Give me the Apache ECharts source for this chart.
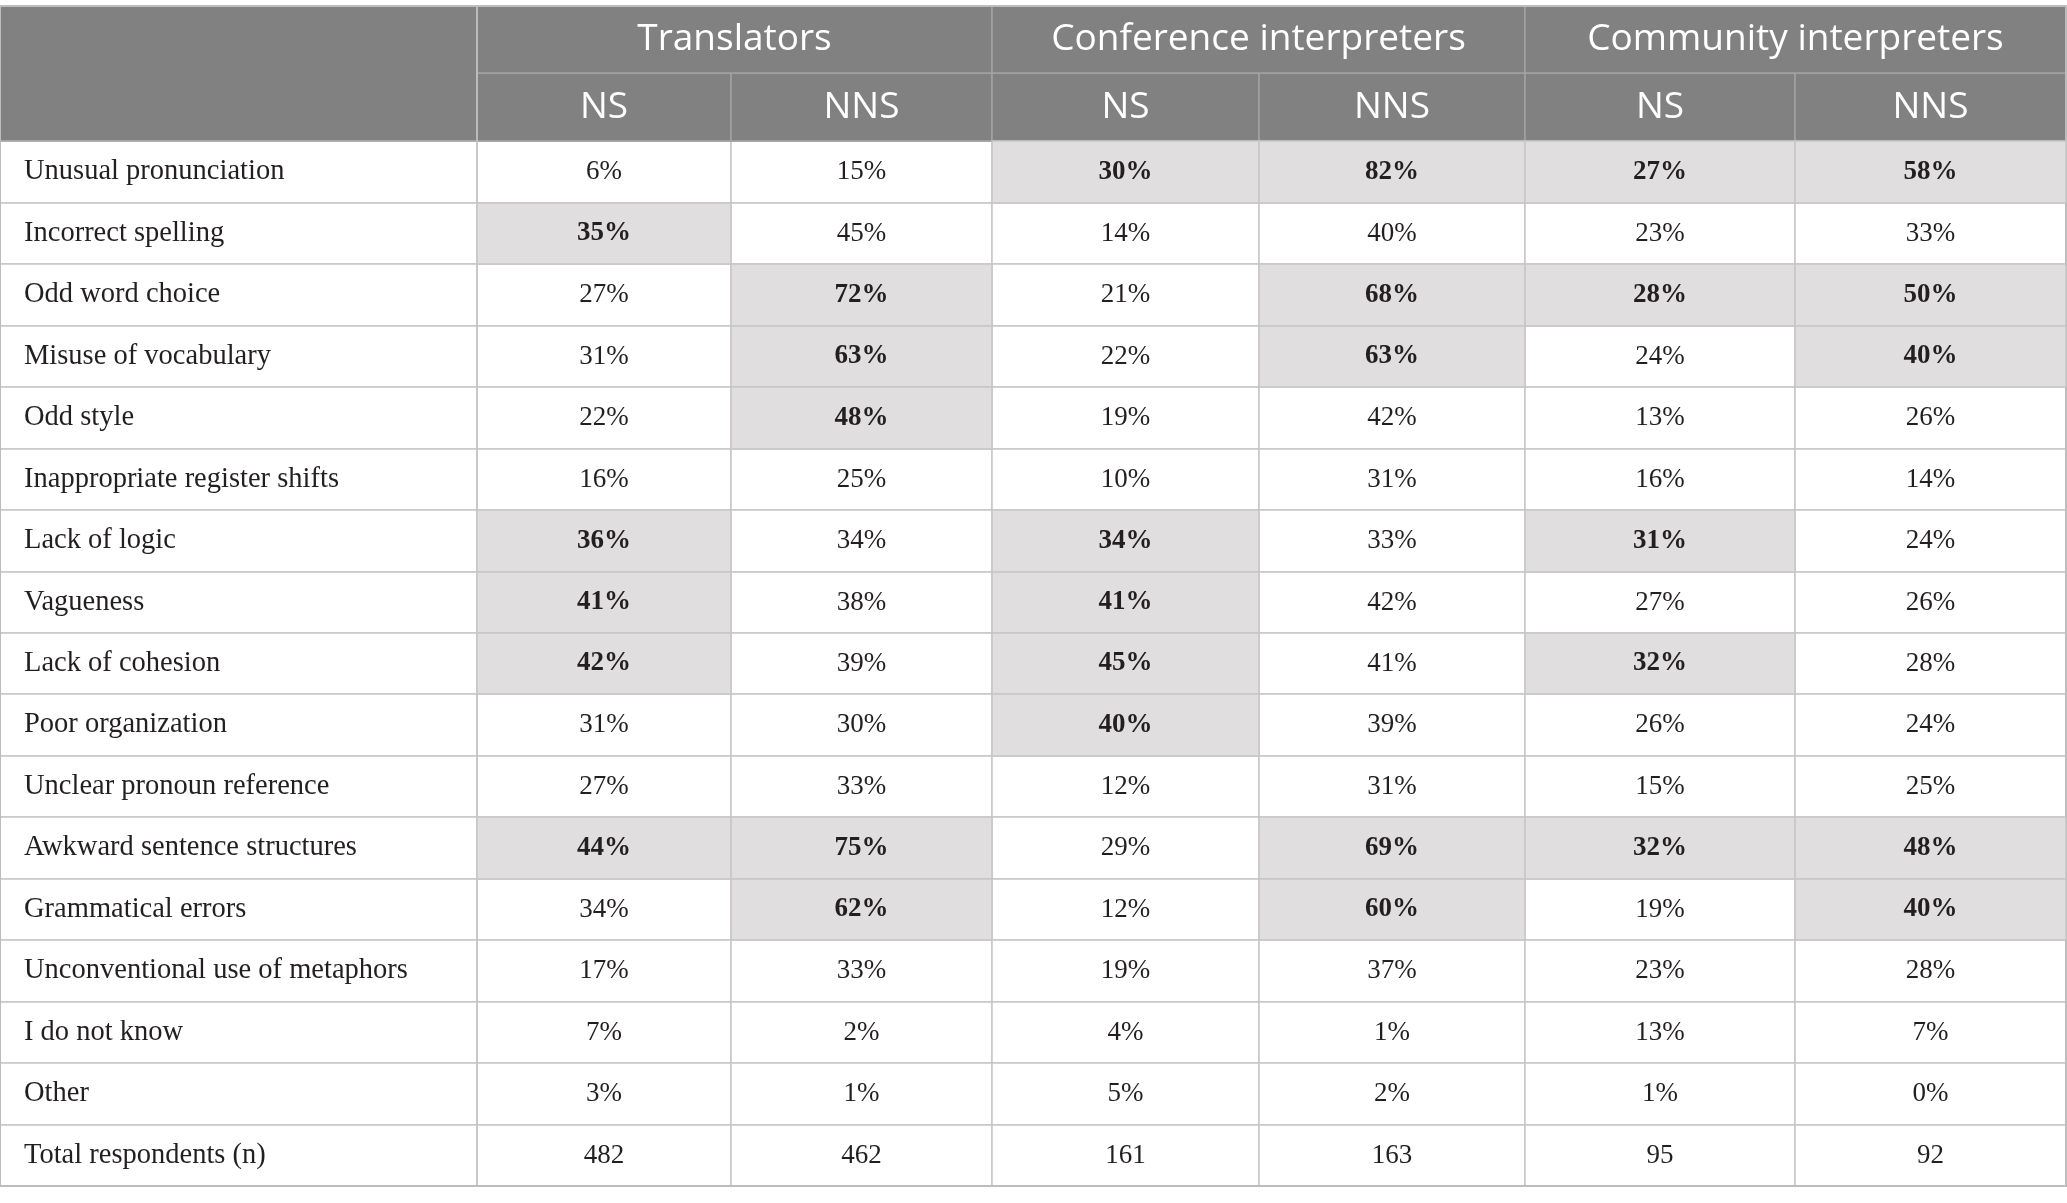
<!DOCTYPE html>
<html>
<head>
<meta charset="utf-8">
<script src="https://cdn.jsdelivr.net/npm/echarts@6.0.0/dist/echarts.min.js"></script>
<style>
  html, body { margin: 0; padding: 0; background: #fff; }
  #main { width: 2067px; height: 1203px; }
</style>
</head>
<body>
<div id="main"></div>
<script>
// row labels
const rowLabels = [
  'Unusual pronunciation', 'Incorrect spelling', 'Odd word choice', 'Misuse of vocabulary',
  'Odd style', 'Inappropriate register shifts', 'Lack of logic', 'Vagueness',
  'Lack of cohesion', 'Poor organization', 'Unclear pronoun reference',
  'Awkward sentence structures', 'Grammatical errors', 'Unconventional use of metaphors',
  'I do not know', 'Other', 'Total respondents (n)'
]
const groups = ['Translators', 'Conference interpreters', 'Community interpreters']
const subLabels = ['NS', 'NNS']

// percentages per column (rows 1-16), last row is respondent count
const translatorsNS  = [6, 35, 27, 31, 22, 16, 36, 41, 42, 31, 27, 44, 34, 17, 7, 3]
const translatorsNNS = [15, 45, 72, 63, 48, 25, 34, 38, 39, 30, 33, 75, 62, 33, 2, 1]
const conferenceNS   = [30, 14, 21, 22, 19, 10, 34, 41, 45, 40, 12, 29, 12, 19, 4, 5]
const conferenceNNS  = [82, 40, 68, 63, 42, 31, 33, 42, 41, 39, 31, 69, 60, 37, 1, 2]
const communityNS    = [27, 23, 28, 24, 13, 16, 31, 27, 32, 26, 15, 32, 19, 23, 13, 1]
const communityNNS   = [58, 33, 50, 40, 26, 14, 24, 26, 28, 24, 25, 48, 40, 28, 7, 0]
const totals = [482, 462, 161, 163, 95, 92]

// shaded (bold) cells, 1 = highlighted
const hlTranslatorsNS  = [0, 1, 0, 0, 0, 0, 1, 1, 1, 0, 0, 1, 0, 0, 0, 0]
const hlTranslatorsNNS = [0, 0, 1, 1, 1, 0, 0, 0, 0, 0, 0, 1, 1, 0, 0, 0]
const hlConferenceNS   = [1, 0, 0, 0, 0, 0, 1, 1, 1, 1, 0, 0, 0, 0, 0, 0]
const hlConferenceNNS  = [1, 0, 1, 1, 0, 0, 0, 0, 0, 0, 0, 1, 1, 0, 0, 0]
const hlCommunityNS    = [1, 0, 1, 0, 0, 0, 1, 0, 1, 0, 0, 1, 0, 0, 0, 0]
const hlCommunityNNS   = [1, 0, 1, 1, 0, 0, 0, 0, 0, 0, 0, 1, 1, 0, 0, 0]

const columns = [translatorsNS, translatorsNNS, conferenceNS, conferenceNNS, communityNS, communityNNS]
const highlights = [hlTranslatorsNS, hlTranslatorsNNS, hlConferenceNS, hlConferenceNNS, hlCommunityNS, hlCommunityNNS]

// layout
const colWidths = [254, 261, 267, 266, 270, 272]
const headGray = '#808180'
const lineGray = '#c6c6c6'
const shade = '#e0dedf'

let cells = []
for (let c = 0; c < columns.length; c++) {
  for (let r = 0; r < rowLabels.length; r++) {
    let isTotal = r == rowLabels.length - 1
    let text = isTotal ? String(totals[c]) : columns[c][r] + '%'
    let item = { coord: [c, r], value: text }
    if (!isTotal && highlights[c][r]) {
      item.itemStyle = { color: shade }
      item.label = { fontWeight: 'bold' }
    }
    cells.push(item)
  }
}

// leaf names must be unique in matrix, so pad repeats with zero-width spaces
let xData = groups.map((g, gi) => ({
  value: g,
  children: subLabels.map((s, si) => ({
    value: s + '\u200B'.repeat(gi),
    size: colWidths[gi * 2 + si]
  }))
}))

var myChart = echarts.init(document.getElementById('main'))

var option = {
  backgroundColor: '#fff',
  matrix: {
    left: 0,
    right: 1,
    top: 6,
    bottom: 17,
    x: {
      data: xData,
      levels: [{ levelSize: 67 }, { levelSize: 68 }],
      label: {
        color: '#fff',
        fontSize: 37,
        fontFamily: 'Open Sans',
        offset: [0, 4]
      },
      itemStyle: {
        color: headGray,
        borderColor: '#a2a3a2',
        borderWidth: 1.5
      },
      dividerLineStyle: { color: '#a2a3a2', width: 1.5 }
    },
    y: {
      data: rowLabels,
      levelSize: 477,
      label: {
        position: 'insideLeft',
        distance: 21,
        color: '#231f20',
        fontSize: 28.5,
        fontFamily: 'Liberation Serif',
        offset: [0, 3]
      },
      itemStyle: {
        color: '#fff',
        borderColor: lineGray,
        borderWidth: 1.5
      },
      dividerLineStyle: { color: lineGray, width: 1.5 }
    },
    corner: {
      itemStyle: { color: headGray, borderColor: headGray },
      data: [{ coord: [-1, [-2, -1]], mergeCells: true }]
    },
    body: {
      data: cells,
      itemStyle: {
        color: '#fff',
        borderColor: lineGray,
        borderWidth: 1.5
      },
      label: {
        color: '#231f20',
        fontSize: 27,
        fontFamily: 'Liberation Serif',
        offset: [0, 3]
      }
    },
    backgroundStyle: {
      borderColor: '#bdbdbd',
      borderWidth: 2
    }
  }
}

myChart.setOption(option)
</script>
</body>
</html>
